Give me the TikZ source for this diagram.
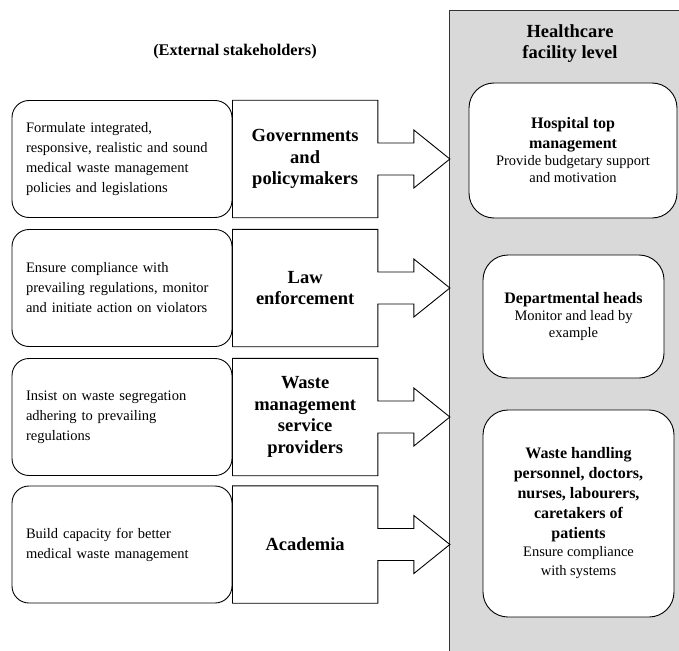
\documentclass[tikz,border=0pt]{standalone}
\usepackage{fontspec}
\setmainfont{Liberation Serif}
\usetikzlibrary{positioning,calc}

% bold heading line inside a facility box
\newcommand{\hd}[1]{{\fontsize{16}{20}\selectfont\bfseries #1}}

% outline of a stakeholder box with its arrow into the facility panel
\newcommand{\callout}[1]{%
  \draw[line width=0.9pt] (#1.south west) -- (#1.north west) -- (#1.north east)
    -- ([yshift=16pt]#1.east) -- ++(36,0) -- ++(0,13) -- ++(36,-29) coordinate (#1-tip)
    -- ++(-36,-29) -- ++(0,13) -- ++(-36,0) -- (#1.south east) -- cycle;}

\begin{document}
\begin{tikzpicture}[
    x=1pt, y=1pt,
    desc/.style={
        rectangle,
        draw,
        rounded corners=17pt,
        line width=0.9pt,
        text width=192pt,
        inner xsep=14pt,
        align=left,
        minimum height=117pt,
        font=\fontsize{14.5}{20}\selectfont
    },
    actor/.style={
        rectangle,
        text width=141pt,
        inner xsep=2pt,
        align=center,
        minimum height=117pt,
        font=\fontsize{18.5}{21.5}\selectfont\bfseries
    },
    staff/.style={
        rectangle,
        draw,
        fill=white,
        rounded corners=25pt,
        line width=0.9pt,
        align=center,
        font=\fontsize{14.5}{17}\selectfont
    },
    panel/.style={
        rectangle,
        draw=black!80,
        fill=black!15,
        line width=0.9pt,
        anchor=north west,
        minimum width=240pt,
        minimum height=660pt
    }
]
\useasboundingbox (0,0) rectangle (679,-650);

% Facility panel
\node[panel] (facility) at (449,-10) {};
\node[align=center, font=\fontsize{18.5}{21}\selectfont\bfseries] (level) at (570,-43.5) {Healthcare\\facility level};
\node[font=\fontsize{16.3}{19}\selectfont\bfseries] (external) at (235,-52) {(External stakeholders)};

% Left column
\node[desc] (d1) at (122,-159) {Formulate integrated,\\responsive, realistic and sound\\medical waste management\\policies and legislations};
\node[desc] (d2) at (122,-288) {Ensure compliance with\\prevailing regulations, monitor\\and initiate action on violators};
\node[desc] (d3) at (122,-417) {Insist on waste segregation\\adhering to prevailing\\regulations};
\node[desc] (d4) at (122,-544.5) {Build capacity for better\\medical waste management};

% Stakeholders
\node[actor, right=0pt of d1] (gov) {Governments\\and\\policymakers};
\node[actor, right=0pt of d2] (law) {Law\\enforcement};
\node[actor, right=0pt of d3] (provider) {Waste\\management\\service\\providers};
\node[actor, right=0pt of d4] (academia) {Academia};

% Arrows
\callout{gov}
\callout{law}
\callout{provider}
\callout{academia}

% Facility level
\node[staff, minimum width=208pt, minimum height=135pt] (top) at (573,-150.5)
    {\hd{Hospital top}\\[3pt]\hd{management}\\Provide budgetary support\\and motivation};
\node[staff, minimum width=181pt, minimum height=123pt] (heads) at (573.5,-316.5)
    {\hd{Departmental heads}\\Monitor and lead by\\example};
\node[staff, minimum width=191pt, minimum height=207pt] (handlers) at (578.5,-513.5)
    {\hd{Waste handling}\\[3pt]\hd{personnel, doctors,}\\[3pt]\hd{nurses, labourers,}\\[3pt]\hd{caretakers of}\\[3pt]\hd{patients}\\[1pt]Ensure compliance\\[2pt]with systems};

\end{tikzpicture}
\end{document}
